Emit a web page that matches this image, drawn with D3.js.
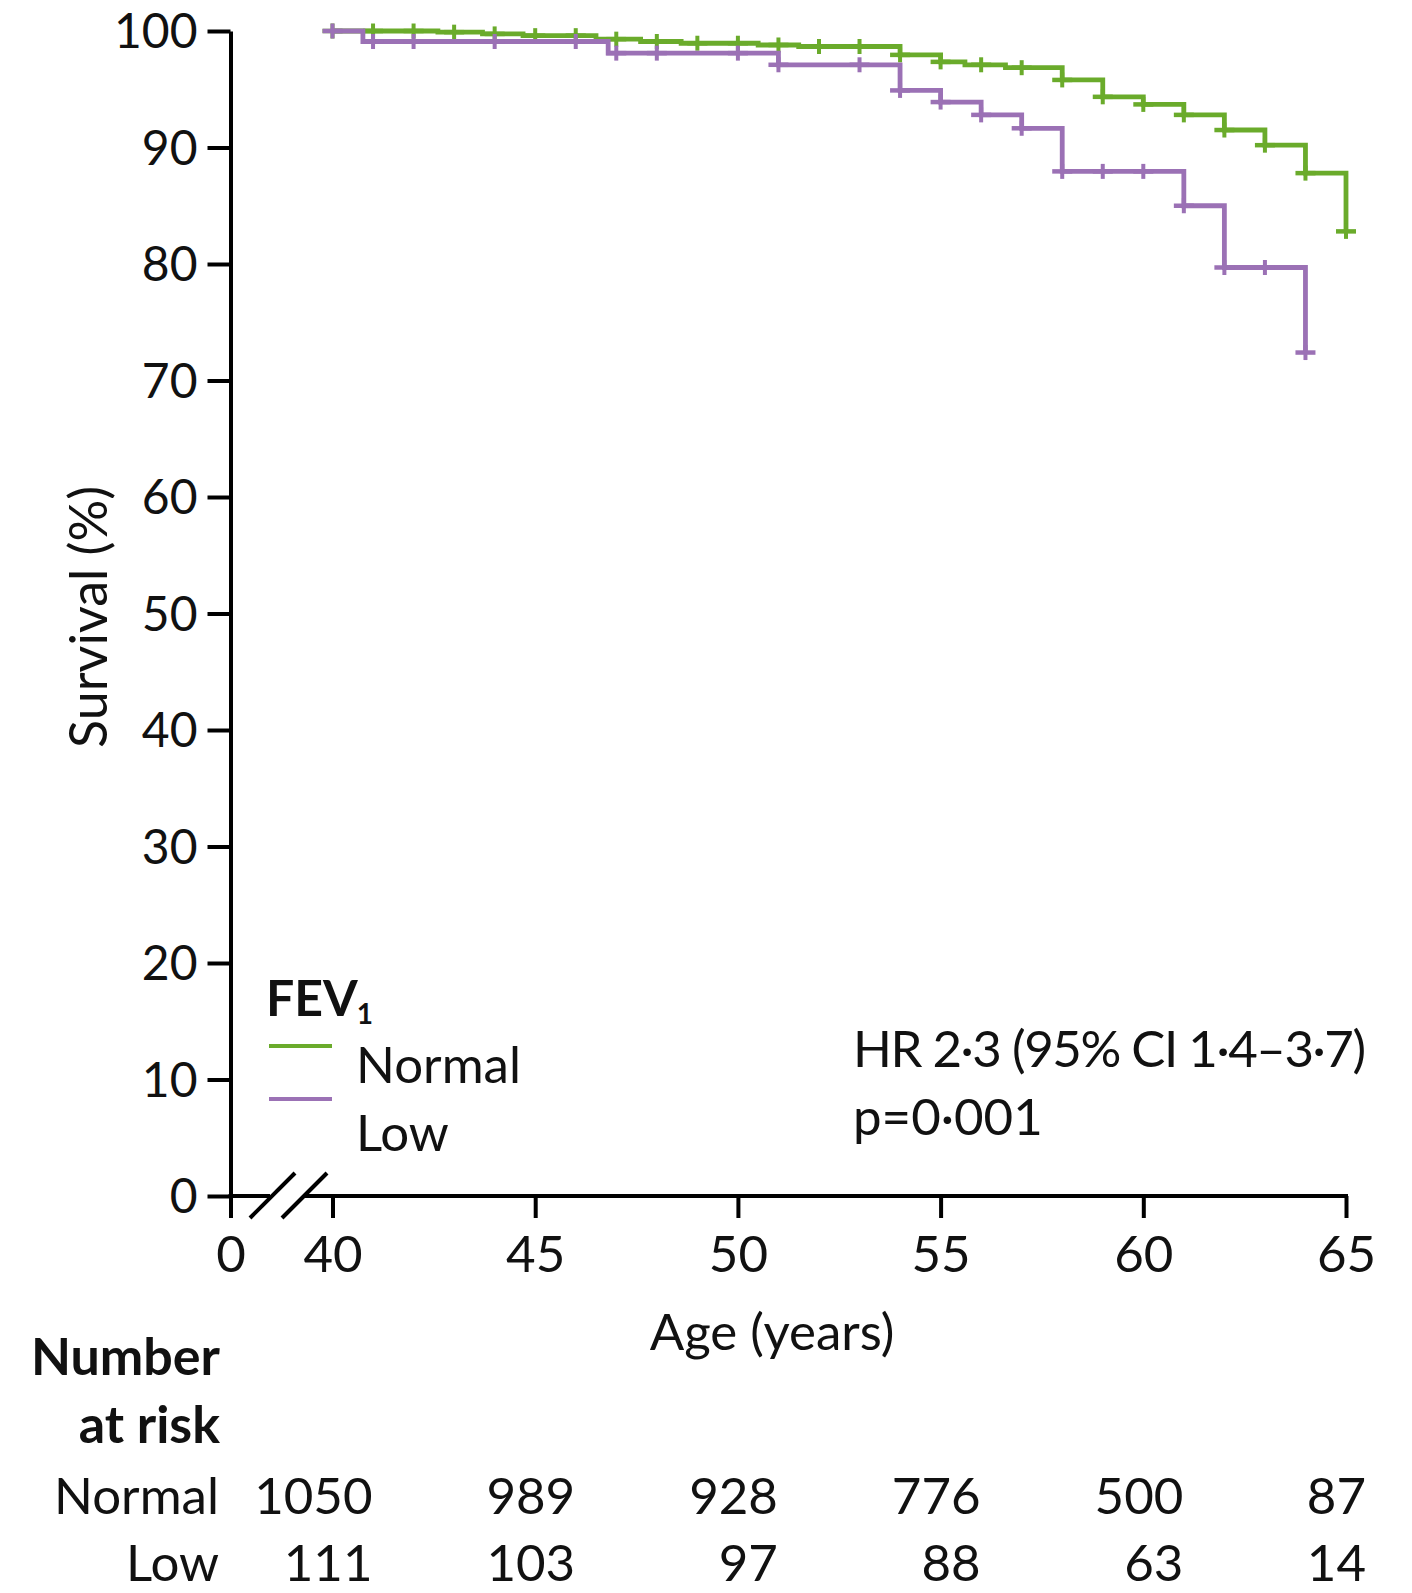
<!DOCTYPE html>
<html>
<head>
<meta charset="utf-8">
<script src="https://cdn.jsdelivr.net/npm/d3@7"></script>
<style>
  html, body { margin: 0; padding: 0; background: #fff; }
  svg { display: block; font-family: Lato, "Open Sans", sans-serif; }
</style>
</head>
<body>
<svg id="chart" width="1412" height="1593"></svg>
<script>
// Kaplan–Meier survival by FEV1 group: steps as [age, survival % after the step]
const normalSteps = [
  [40, 100], [42.6, 99.9], [43.7, 99.75], [44.7, 99.6], [46.5, 99.3], [47.6, 99.1],
  [48.6, 98.95], [50.5, 98.8], [51.5, 98.67], [54, 97.95], [55, 97.35], [55.6, 97.1],
  [56.6, 96.85], [58, 95.8], [59, 94.35], [60, 93.7], [61, 92.8], [62, 91.5],
  [63, 90.2], [64, 87.8], [65, 82.8]
];
const lowSteps = [
  [40, 100], [40.75, 99.1], [46.8, 98.1], [51, 97.1], [54, 94.9], [55, 93.9],
  [56, 92.8], [57, 91.65], [58, 87.95], [61, 85.0], [62, 79.7], [64, 72.4]
];
// Censoring marks (ages)
const normalCensor = [40, 41, 42, 43, 44, 45, 46, 47, 48, 49, 50, 51, 52, 53, 54, 55, 56, 57, 58, 59, 60, 61, 62, 63, 64, 65];
const lowCensor = [40, 41, 42, 44, 46, 47, 48, 50, 51, 53, 54, 55, 56, 57, 58, 59, 60, 61, 62, 63, 64];

// Axis ticks
const xTicks = [0, 40, 45, 50, 55, 60, 65];
const yTicks = [0, 10, 20, 30, 40, 50, 60, 70, 80, 90, 100];

// Number at risk
const riskAges = [40, 45, 50, 55, 60, 65];
const riskNormal = [1050, 989, 928, 776, 500, 87];
const riskLow = [111, 103, 97, 88, 63, 14];

const groups = ["Normal", "Low"];
const colors = { Normal: "#6aab2b", Low: "#9b71b5" };

const svg = d3.select("#chart");
const FS = 51;

// Broken x axis: 0 sits at the y axis, data run 40–65
const x = d3.scaleLinear().domain([0, 40, 65]).range([230.5, 332.5, 1346]);
const y = d3.scaleLinear().domain([0, 100]).range([1196, 31]);

const axisW = 4;

// Y axis
const yAxis = svg.append("g")
  .attr("transform", `translate(${x(0)},0)`)
  .call(d3.axisLeft(y).tickValues(yTicks).tickSize(23).tickSizeOuter(0).tickPadding(10));
yAxis.select(".domain").attr("stroke", "#000").attr("stroke-width", axisW);
yAxis.selectAll(".tick line").attr("stroke", "#000").attr("stroke-width", axisW);
yAxis.selectAll(".tick text").attr("font-size", 48).attr("font-family", "Lato")
  .attr("dy", "0.35em").attr("fill", "#111");

// X axis (ticks only; the line is drawn in two pieces around the break)
const xAxis = svg.append("g")
  .attr("transform", `translate(0,${y(0)})`)
  .call(d3.axisBottom(x).tickValues(xTicks).tickSize(22).tickSizeOuter(0).tickPadding(18));
xAxis.select(".domain").remove();
xAxis.selectAll(".tick line").attr("stroke", "#000").attr("stroke-width", axisW);
xAxis.selectAll(".tick text").attr("font-size", FS).attr("font-family", "Lato").attr("fill", "#111");

const y0 = y(0);
svg.append("line").attr("x1", x(0) - 2).attr("x2", 270).attr("y1", y0).attr("y2", y0)
  .attr("stroke", "#000").attr("stroke-width", axisW);
svg.append("line").attr("x1", 304).attr("x2", x(65) + 2).attr("y1", y0).attr("y2", y0)
  .attr("stroke", "#000").attr("stroke-width", axisW);
// Break marks
[[250, 295], [282, 327]].forEach(([a, b]) => {
  svg.append("line").attr("x1", a).attr("y1", y0 + 22).attr("x2", b).attr("y2", y0 - 23)
    .attr("stroke", "#000").attr("stroke-width", axisW);
});

// Survival curves
const line = d3.line().x(d => x(d[0])).y(d => y(d[1])).curve(d3.curveStepAfter);
function survAt(steps, age) {
  let v = steps[0][1];
  for (const s of steps) if (s[0] <= age + 1e-9) v = s[1];
  return v;
}
const series = [
  { name: "Normal", steps: normalSteps, censor: normalCensor },
  { name: "Low", steps: lowSteps, censor: lowCensor }
];
series.forEach(s => {
  const g = svg.append("g");
  g.append("path").attr("d", line(s.steps)).attr("fill", "none")
    .attr("stroke", colors[s.name]).attr("stroke-width", 4.8);
  const marks = g.selectAll("g.mark").data(s.censor).join("g")
    .attr("transform", a => `translate(${x(a)},${y(survAt(s.steps, a))})`);
  marks.append("line").attr("x1", -10).attr("x2", 10).attr("y1", 0).attr("y2", 0)
    .attr("stroke", colors[s.name]).attr("stroke-width", 4.5);
  marks.append("line").attr("x1", 0).attr("x2", 0).attr("y1", -7.5).attr("y2", 7.5)
    .attr("stroke", colors[s.name]).attr("stroke-width", 4);
});

// Axis titles
svg.append("text").attr("x", 772).attr("y", 1350).attr("text-anchor", "middle")
  .attr("font-size", FS).attr("fill", "#111").text("Age (years)");
svg.append("text").attr("transform", `translate(107,617) rotate(-90)`).attr("text-anchor", "middle")
  .attr("font-size", 52).attr("fill", "#111").text("Survival (%)");

// Legend
const fev = svg.append("text").attr("x", 266).attr("y", 1016).attr("font-size", 50)
  .attr("font-weight", "bold").attr("fill", "#111");
fev.append("tspan").text("FEV");
fev.append("tspan").attr("font-size", 28).attr("dx", -1).attr("dy", 8).text("1");
groups.forEach((gname, i) => {
  const ly = 1046 + i * 53;
  svg.append("line").attr("x1", 269).attr("x2", 332).attr("y1", ly).attr("y2", ly)
    .attr("stroke", colors[gname]).attr("stroke-width", 4);
  svg.append("text").attr("x", 356).attr("y", 1083 + i * 68).attr("font-size", FS)
    .attr("fill", "#111").text(gname);
});

// Hazard ratio annotation
svg.append("text").attr("x", 853).attr("y", 1067).attr("font-size", FS).attr("fill", "#111")
  .attr("textLength", 513).attr("lengthAdjust", "spacing")
  .text("HR 2·3 (95% CI 1·4–3·7)");
svg.append("text").attr("x", 853).attr("y", 1135).attr("font-size", FS).attr("fill", "#111")
  .text("p=0·001");

// Number at risk table
svg.append("text").attr("x", 220).attr("y", 1375).attr("text-anchor", "end")
  .attr("font-size", 52).attr("font-weight", "bold").attr("fill", "#111").text("Number");
svg.append("text").attr("x", 220).attr("y", 1443).attr("text-anchor", "end")
  .attr("font-size", 52).attr("font-weight", "bold").attr("fill", "#111").text("at risk");
const rows = [{ name: "Normal", vals: riskNormal, yb: 1514 }, { name: "Low", vals: riskLow, yb: 1581 }];
rows.forEach(r => {
  svg.append("text").attr("x", 219).attr("y", r.yb).attr("text-anchor", "end")
    .attr("font-size", FS).attr("fill", "#111").text(r.name);
  svg.selectAll(null).data(riskAges).join("text")
    .attr("x", a => Math.min(x(a) + 40, 1366))
    .attr("y", r.yb).attr("text-anchor", "end")
    .attr("font-size", FS).attr("fill", "#111")
    .text((a, i) => r.vals[i]);
});
</script>
</body>
</html>
